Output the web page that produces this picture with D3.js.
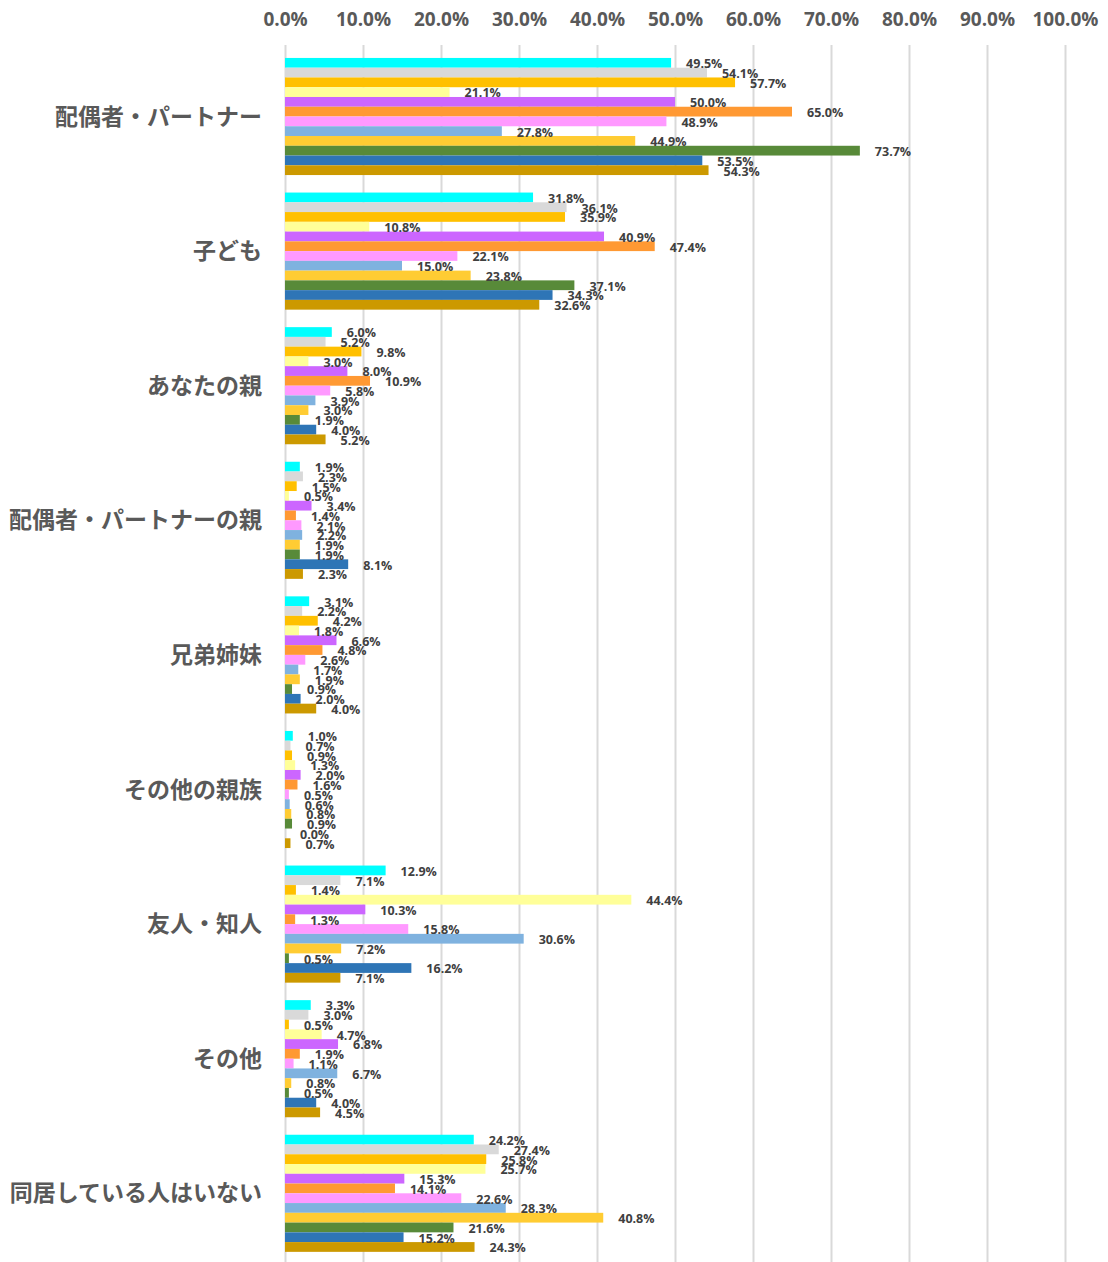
<!DOCTYPE html>
<html>
<head>
<meta charset="utf-8">
<script src="https://cdn.jsdelivr.net/npm/d3@7"></script>
<style>
  body { margin: 0; background: #fff; }
  .tick-label { font-family: "Open Sans", sans-serif; font-weight: 700; font-size: 19px; fill: #595959; }
  .cat-label { font-family: "Noto Sans CJK JP", sans-serif; font-weight: 700; font-size: 23px; fill: #595959; }
  .val-label { font-family: "Open Sans", sans-serif; font-weight: 700; font-size: 12.5px; fill: #404040; }
</style>
</head>
<body>
<script>
// categories (top to bottom)
const categories = [
    '配偶者・パートナー', '子ども', 'あなたの親', '配偶者・パートナーの親',
    '兄弟姉妹', 'その他の親族', '友人・知人', 'その他', '同居している人はいない'
];

// 12 series, no legend in the source picture
const seriesNames = ['系列1', '系列2', '系列3', '系列4', '系列5', '系列6',
                     '系列7', '系列8', '系列9', '系列10', '系列11', '系列12'];
const seriesColors = ['#00FFFF', '#D9D9D9', '#FFC000', '#FFFF99', '#CC66FF', '#FF9933',
                      '#FF99FF', '#7FB2DF', '#FFCC33', '#588A39', '#2E75B6', '#CC9900'];

// values in %, one array per category, in series order
const v_partner   = [49.5, 54.1, 57.7, 21.1, 50.0, 65.0, 48.9, 27.8, 44.9, 73.7, 53.5, 54.3];
const v_child     = [31.8, 36.1, 35.9, 10.8, 40.9, 47.4, 22.1, 15.0, 23.8, 37.1, 34.3, 32.6];
const v_parent    = [6.0, 5.2, 9.8, 3.0, 8.0, 10.9, 5.8, 3.9, 3.0, 1.9, 4.0, 5.2];
const v_inlaw     = [1.9, 2.3, 1.5, 0.5, 3.4, 1.4, 2.1, 2.2, 1.9, 1.9, 8.1, 2.3];
const v_sibling   = [3.1, 2.2, 4.2, 1.8, 6.6, 4.8, 2.6, 1.7, 1.9, 0.9, 2.0, 4.0];
const v_relative  = [1.0, 0.7, 0.9, 1.3, 2.0, 1.6, 0.5, 0.6, 0.8, 0.9, 0.0, 0.7];
const v_friend    = [12.9, 7.1, 1.4, 44.4, 10.3, 1.3, 15.8, 30.6, 7.2, 0.5, 16.2, 7.1];
const v_other     = [3.3, 3.0, 0.5, 4.7, 6.8, 1.9, 1.1, 6.7, 0.8, 0.5, 4.0, 4.5];
const v_alone     = [24.2, 27.4, 25.8, 25.7, 15.3, 14.1, 22.6, 28.3, 40.8, 21.6, 15.2, 24.3];

const xTicks = [0, 10, 20, 30, 40, 50, 60, 70, 80, 90, 100];

const valuesByCat = [v_partner, v_child, v_parent, v_inlaw, v_sibling,
                     v_relative, v_friend, v_other, v_alone];

const W = 1108, H = 1262;
const plot = { left: 285, right: 1065, top: 49.2, bottom: 1260.6 };

const svg = d3.select('body').append('svg')
    .attr('width', W)
    .attr('height', H);

const x = d3.scaleLinear().domain([0, 100]).range([plot.left, plot.right]);

const y = d3.scaleBand()
    .domain(categories)
    .range([plot.top, plot.bottom])
    .paddingInner(0.13)
    .paddingOuter(0.065);

const ySeries = d3.scaleBand()
    .domain(seriesNames)
    .range([0, y.bandwidth()]);

// gridlines
const xAxis = d3.axisTop(x)
    .tickValues(xTicks)
    .tickSize(-(H - 45))
    .tickFormat(d => d3.format('.1f')(d) + '%');

const axisG = svg.append('g')
    .attr('transform', 'translate(0,45)')
    .call(xAxis);
axisG.select('.domain').remove();
axisG.selectAll('.tick line')
    .attr('stroke', '#D9D9D9')
    .attr('stroke-width', 2);
axisG.selectAll('.tick text')
    .attr('class', 'tick-label')
    .attr('y', -26)
    .attr('dy', '0.35em')
    .attr('fill', null);

// bars
const groups = svg.selectAll('g.cat')
    .data(categories)
    .enter().append('g')
    .attr('class', 'cat')
    .attr('transform', d => `translate(0,${y(d)})`);

groups.selectAll('rect')
    .data((d, i) => valuesByCat[i].map((v, j) => ({ v, s: seriesNames[j], c: seriesColors[j] })))
    .enter().append('rect')
    .attr('x', x(0))
    .attr('y', d => ySeries(d.s))
    .attr('width', d => x(d.v) - x(0))
    .attr('height', ySeries.bandwidth())
    .attr('fill', d => d.c);

groups.selectAll('text.val-label')
    .data((d, i) => valuesByCat[i].map((v, j) => ({ v, s: seriesNames[j] })))
    .enter().append('text')
    .attr('class', 'val-label')
    .attr('x', d => x(d.v) + 15)
    .attr('y', d => ySeries(d.s) + ySeries.bandwidth() / 2 + 1)
    .attr('dy', '0.35em')
    .text(d => d.v.toFixed(1) + '%');

// category labels
svg.selectAll('text.cat-label')
    .data(categories)
    .enter().append('text')
    .attr('class', 'cat-label')
    .attr('x', 262)
    .attr('y', d => y(d) + y.bandwidth() / 2)
    .attr('dy', '0.35em')
    .attr('text-anchor', 'end')
    .text(d => d);
</script>
</body>
</html>
